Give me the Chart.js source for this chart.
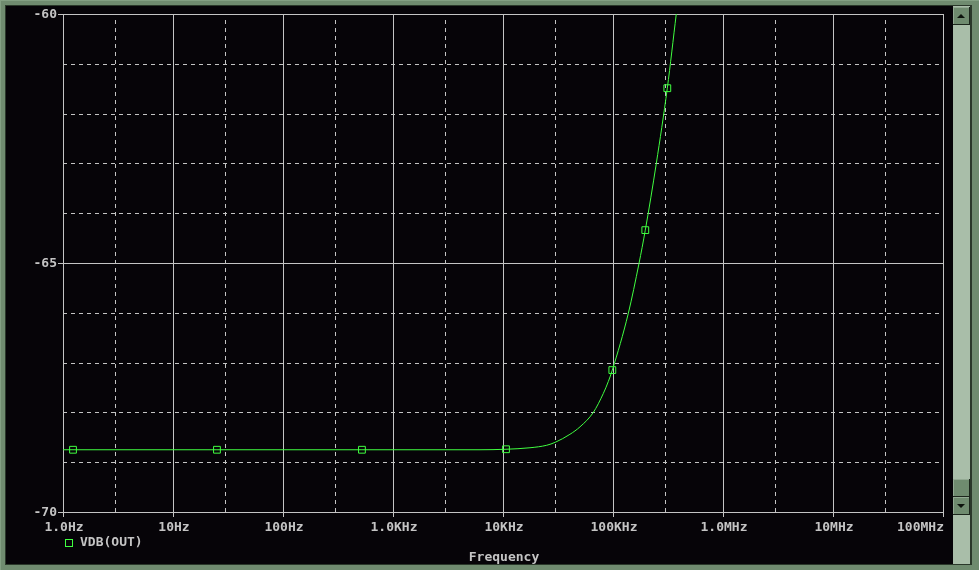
<!DOCTYPE html>
<html>
<head>
<meta charset="utf-8">
<title>VDB(OUT)</title>
<script src="https://cdn.jsdelivr.net/npm/chart.js@4.4.1/dist/chart.umd.min.js"></script>
<style>
  html, body { margin: 0; padding: 0; background: #6f8b6f; overflow: hidden; }
  canvas { display: block; }
</style>
</head>
<body>
<canvas id="probeChart" width="979" height="570"></canvas>
<script>
// trace (Hz, dB)
const freqHz = [1, 1.233, 25.1, 522, 6180, 10650, 17590, 24950, 29870, 40600, 50120, 66230, 81660,
    90660, 98600, 137800, 172300, 196600, 247600, 311700, 376000];
const vdbOut = [-68.75, -68.75, -68.75, -68.75, -68.75, -68.74, -68.71, -68.66, -68.60, -68.44, -68.29, -68.00, -67.62,
    -67.38, -67.15, -66.01, -65.01, -64.34, -63.00, -61.49, -60.00];

// the small square symbols sitting on the trace
const markerHz = [1.233, 25.1, 522, 10650, 98600, 196600, 311700];
const markerDb = [-68.75, -68.75, -68.75, -68.74, -67.15, -64.34, -61.49];

// axes
const xTickValues = [1, 10, 100, 1e3, 1e4, 1e5, 1e6, 1e7, 1e8];
const xTickLabels = ['1.0Hz', '10Hz', '100Hz', '1.0KHz', '10KHz', '100KHz', '1.0MHz', '10MHz', '100MHz'];
const xMinorValues = [3, 30, 300, 3e3, 3e4, 3e5, 3e6, 3e7];
const yTickValues = [-70, -65, -60];
const yTickLabels = ['-70', '-65', '-60'];
const yMinorValues = [-69, -68, -67, -66, -64, -63, -62, -61];

const GRID = '#c4c4c4';
const TEXT = '#c4c4c4';
const TRACE = '#40ff40';
const FONT = 'bold 13px "DejaVu Sans Mono", monospace';

function line(ctx, x1, y1, x2, y2, dash) {
    ctx.setLineDash(dash || []);
    ctx.beginPath();
    ctx.moveTo(x1, y1);
    ctx.lineTo(x2, y2);
    ctx.stroke();
}

function scrollButton(ctx, y, dir) {
    ctx.fillStyle = '#6f8b6f';
    ctx.fillRect(953, y, 16, 17);
    ctx.fillStyle = '#93aa93';
    ctx.fillRect(953, y, 16, 1);
    ctx.fillRect(953, y, 1, 17);
    ctx.fillStyle = '#1c261c';
    ctx.fillRect(953, y + 17, 17, 1);
    ctx.fillRect(969, y, 1, 18);
    if (dir) {
        ctx.fillStyle = '#0c120c';
        ctx.beginPath();
        const cy = y + 9;
        if (dir === 'up') {
            ctx.moveTo(957, cy + 2); ctx.lineTo(965, cy + 2); ctx.lineTo(961, cy - 2);
        } else {
            ctx.moveTo(957, cy - 2); ctx.lineTo(965, cy - 2); ctx.lineTo(961, cy + 2);
        }
        ctx.closePath();
        ctx.fill();
    }
}

// paints the window, grid and all the text before the trace goes on top
const probeWindow = {
    id: 'probeWindow',
    beforeDraw(chart) {
        const ctx = chart.ctx;
        const { left, right, top, bottom } = chart.chartArea;
        const xs = chart.scales.x;
        const ys = chart.scales.y;
        const W = chart.width, H = chart.height;
        ctx.save();

        // frame
        ctx.fillStyle = '#6f8b6f';
        ctx.fillRect(0, 0, W, H);
        ctx.fillStyle = '#83a083';
        ctx.fillRect(0, 0, W, 1);
        ctx.fillRect(0, 0, 1, H);
        ctx.fillStyle = '#2a382a';
        ctx.fillRect(5, 5, 967, 560);
        ctx.fillStyle = '#060408';
        ctx.fillRect(6, 6, 947, 558);

        // scrollbar
        ctx.fillStyle = '#a9bea9';
        ctx.fillRect(953, 6, 17, 558);
        scrollButton(ctx, 7, 'up');
        scrollButton(ctx, 479, null);
        scrollButton(ctx, 497, 'down');

        // grid
        ctx.strokeStyle = GRID;
        ctx.lineWidth = 1;
        yMinorValues.forEach(v => {
            const y = Math.round(ys.getPixelForValue(v)) + 0.5;
            line(ctx, left, y, right, y, [4, 4]);
        });
        xMinorValues.forEach(v => {
            const x = Math.round(xs.getPixelForValue(v)) + 0.5;
            line(ctx, x, top + 6, x, bottom, [4, 4]);
        });
        yTickValues.forEach(v => {
            const y = Math.round(ys.getPixelForValue(v)) + 0.5;
            line(ctx, left - 5, y, right + 1, y);
        });
        xTickValues.forEach(v => {
            const x = Math.round(xs.getPixelForValue(v)) + 0.5;
            line(ctx, x, top, x, bottom + 5);
        });

        // tick labels
        ctx.setLineDash([]);
        ctx.font = FONT;
        ctx.fillStyle = TEXT;
        ctx.textBaseline = 'middle';
        ctx.textAlign = 'right';
        yTickValues.forEach((v, i) => {
            ctx.fillText(yTickLabels[i], left - 6, Math.round(ys.getPixelForValue(v)) + 1);
        });
        xTickValues.forEach((v, i) => {
            const last = i === xTickValues.length - 1;
            ctx.textAlign = last ? 'right' : 'center';
            const x = Math.round(xs.getPixelForValue(v));
            ctx.fillText(xTickLabels[i], x + 1, bottom + 16);
        });

        // legend + axis title
        ctx.strokeStyle = TRACE;
        ctx.strokeRect(65.5, 539.5, 7, 7);
        ctx.textAlign = 'left';
        ctx.fillText('VDB(OUT)', 80, 543);
        ctx.textAlign = 'center';
        ctx.fillText('Frequency', 504, 558);

        ctx.restore();
    }
};

new Chart(document.getElementById('probeChart'), {
    type: 'line',
    data: {
        datasets: [{
            label: 'VDB(OUT)',
            data: freqHz.map((f, i) => ({ x: f, y: vdbOut[i] })),
            borderColor: TRACE,
            borderWidth: 1,
            pointRadius: 0,
            cubicInterpolationMode: 'monotone',
            fill: false
        }, {
            label: 'markers',
            data: markerHz.map((f, i) => ({ x: f, y: markerDb[i] })),
            showLine: false,
            pointStyle: 'rect',
            pointRadius: 4.8,
            pointBorderWidth: 1,
            pointBorderColor: TRACE,
            pointBackgroundColor: 'rgba(0,0,0,0)'
        }]
    },
    options: {
        responsive: false,
        animation: false,
        devicePixelRatio: 1,
        layout: { padding: { left: 63, top: 14, right: 36, bottom: 58 } },
        plugins: { legend: { display: false }, tooltip: { enabled: false } },
        scales: {
            x: { type: 'logarithmic', min: 1, max: 1e8, display: false },
            y: { type: 'linear', min: -70, max: -60, display: false }
        }
    },
    plugins: [probeWindow]
});
</script>
</body>
</html>
